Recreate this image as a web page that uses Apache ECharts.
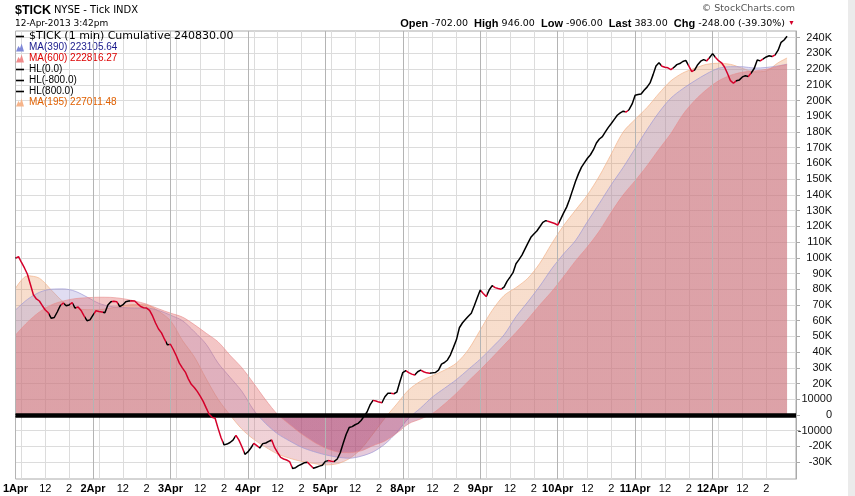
<!DOCTYPE html>
<html>
<head>
<meta charset="utf-8">
<script src="https://cdn.jsdelivr.net/npm/echarts@6/dist/echarts.min.js"></script>
<style>
html, body { margin: 0; padding: 0; background: #fff; }
#main { width: 855px; height: 496px; }
</style>
</head>
<body>
<div id="main"></div>
<script>
// trading days on the axis, each split in 15 minute slots from 9:30
var dayNames = ['1Apr', '2Apr', '3Apr', '4Apr', '5Apr', '8Apr', '9Apr', '10Apr', '11Apr', '12Apr'];
var slotsPerDay = 26;
var padSlots = 3;
var timeTicks = [{ slot: 10, label: '12' }, { slot: 18, label: '2' }];
var gridSlots = [0, 2, 10, 18];

// cumulative $TICK, thousands, one value per slot
var tickLine = [
    99.7, 100.7, 97, 93.5, 89.5, 83, 76.5, 73.8, 72.5, 69.5, 66.8, 65, 61.5, 62, 65.5, 69.5, 71.2, 69.5, 70, 71.4, 68, 68.7, 66.5, 63, 60, 60.5,
    63.5, 66.3, 65.8, 65.5, 65, 70, 72, 72.3, 72, 69, 70, 72, 72.5, 72.7, 72.5, 70.7, 69, 68.2, 68, 66.5, 63, 58.5, 54.7, 52.2, 48.2, 44.6,
    45, 41.5, 37.5, 33, 30, 27.3, 23, 19.5, 17.5, 15, 12, 8.7, 4.5, 0.5, -1.5, -2.1, -8.5, -14.5, -19, -18.5, -17.5, -16, -13, -16, -20.2, -25,
    -23.5, -21, -18, -19.5, -21, -18.2, -17.8, -16.8, -15.9, -20.8, -24, -27, -28, -28.6, -29.6, -34, -33.5, -32.2, -31.3, -30.3, -30, -32, -33.9, -33.2, -32.5, -32,
    -29.5, -29, -29.4, -29.5, -28, -24, -18, -12.2, -8, -7.4, -6.2, -5.3, -3.5, -0.8, 1.9, 6.4, 9.3, 8.9, 8.2, 7.8, 11.6, 13.8, 13.9, 13.5, 14.5, 21,
    27, 28.2, 27, 26, 25.4, 27.5, 28.5, 27.5, 26.8, 26.6, 26.8, 27.1, 28.5, 32.4, 33.4, 35, 38.3, 43, 47.8, 55.5, 58.5, 60.7, 62.8, 64.7, 69.5, 74.5,
    79.5, 77.3, 75.3, 79.5, 82.3, 81, 80.4, 80, 81.3, 85, 87.7, 90.5, 96.2, 98.8, 101.7, 105.5, 109.3, 113, 115.1, 117, 119.7, 122.5, 123.6, 123, 122.4, 121.8,
    120.8, 124.6, 128.5, 132.2, 137.2, 143, 148.6, 153.5, 157.6, 160.5, 163.3, 165.5, 168.7, 173, 175.5, 177, 180, 182.9, 185.4, 188, 190.6, 192.1, 193.2, 192.7, 194.3, 197.8,
    203.4, 203.8, 204.2, 206.5, 208.5, 211.2, 216.3, 222, 224, 221.8, 221.2, 220.8, 219.7, 221, 222.8, 223.5, 224.8, 225.5, 222, 218.4, 219.5, 222.8, 225, 226, 225.2, 227.3,
    229.8, 227.3, 225.3, 224, 221.3, 217.2, 212.6, 211, 212.6, 213.1, 215, 215.7, 215.3, 217.6, 220.5, 225.8, 225.2, 226.5, 227.7, 228.5, 228, 229, 232, 237, 238.5, 240.83
];

// moving averages read hourly (slot index), thousands
var maSlots = [0, 4, 8, 12, 16, 20, 24, 28, 32, 36, 40, 44, 48, 52, 56, 60, 64, 68, 72, 76, 80, 84, 88, 92, 96, 100,
    104, 108, 112, 116, 120, 124, 128, 132, 136, 140, 144, 148, 152, 156, 160, 164, 168, 172, 176, 180, 184, 188, 192, 196, 200,
    204, 208, 212, 216, 220, 224, 228, 232, 236, 240, 244, 248, 252, 256, 259];
var ma195 = [80.6, 88.5, 87, 79.5, 72, 68, 67, 67, 68, 69.5, 70.2, 70, 66, 60, 47.5, 37, 23, 10, 0, -9, -15.5, -20.5, -24.8, -27.5, -29.5, -30.8,
    -31.7, -31, -27.8, -21.5, -12, -2, 7, 16, 21.5, 25, 28.5, 33, 41.5, 54, 66.5, 76, 81, 87, 96.5, 109, 120.5, 130.3, 140, 152, 166,
    180, 188, 195.5, 204.5, 212.5, 217.5, 220.5, 223, 223.7, 223, 220.5, 218.2, 218.8, 224, 227.01];
var ma390 = [66.8, 73.5, 78, 80, 80.2, 78.7, 75, 71, 69, 68.3, 68, 68, 66.5, 63.5, 60, 53, 45, 33, 24, 15, 3, -5.5, -12, -16.5, -20.5, -23.2,
    -25.3, -26.8, -27.5, -26.2, -23.5, -18.5, -11, -2, 4.5, 11.5, 17, 22.5, 29, 35.5, 43, 51, 62.5, 72, 82, 93, 102.5, 111, 123, 134.6, 146.5,
    157.5, 169.5, 181.5, 192.5, 201.5, 207.5, 212.5, 217, 220.5, 221.5, 221.5, 220.6, 221, 222, 223.11];
var ma600 = [50.9, 59, 65.5, 70, 72.5, 74, 74.6, 74.9, 74.8, 74, 72.5, 70.5, 67.5, 64.8, 62.3, 57.5, 52, 46.5, 38, 30, 20, 9.5, 0.3, -6, -12, -17,
    -21, -23.5, -24, -22.8, -19.5, -16.5, -11.5, -5.5, -2.5, 1, 7, 13.8, 21.5, 28.8, 36.5, 44.5, 52.5, 61, 70, 78.5, 88, 98, 107, 117, 129,
    140, 149, 158.5, 169, 179, 191, 200, 207, 212.5, 216, 218, 218.8, 219.8, 221.8, 222.82];

var hlLevels = [0, -800, 800];
var yTicks = [-30000, -20000, -10000, 0, 10000, 20000, 30000, 40000, 50000, 60000, 70000, 80000, 90000, 100000, 110000, 120000,
    130000, 140000, 150000, 160000, 170000, 180000, 190000, 200000, 210000, 220000, 230000, 240000];

var tickName = '$TICK (1 min) Cumulative 240830.00';
var ma390Name = 'MA(390) 223105.64';
var ma600Name = 'MA(600) 222816.27';
var ma195Name = 'MA(195) 227011.48';
var hlNames = ['HL(0.0)', 'HL(-800.0)', 'HL(800.0)'];

var upColor = '#000000';
var downColor = '#d4002a';
var mountain = 'path://M0,10 L3,3 L5,6 L7,0 L10,10 Z';
var dash = 'path://M0,4 L10,4 L10,6 L0,6 Z';

function pad2(n) { return n < 10 ? '0' + n : '' + n; }

var categories = [];
for (var d = 0; d < dayNames.length; d++) {
    for (var s = 0; s < slotsPerDay; s++) {
        var m = 570 + s * 15;
        categories.push(dayNames[d] + ' ' + Math.floor(m / 60) + ':' + pad2(m % 60));
    }
}
for (var p = 0; p < padSlots; p++) {
    categories.push('end ' + p);
}
var lastSlot = dayNames.length * slotsPerDay - 1;

function maData(arr) {
    return maSlots.map(function (slot, i) { return [slot, arr[i] * 1000]; });
}

// black for up moves, red for down moves
var n = tickLine.length;
var stops = [];
for (var i = 1; i < n; i++) {
    var c = tickLine[i] < tickLine[i - 1] ? downColor : upColor;
    stops.push({ offset: (i - 1) / (n - 1), color: c });
    stops.push({ offset: i / (n - 1), color: c });
}

function isGridSlot(index) {
    return index <= lastSlot && gridSlots.indexOf(index % slotsPerDay) >= 0;
}
function isLabelSlot(index) {
    if (index > lastSlot) return false;
    var s = index % slotsPerDay;
    if (s === 0) return true;
    for (var k = 0; k < timeTicks.length; k++) {
        if (timeTicks[k].slot === s) return true;
    }
    return false;
}

// fill colours above / below zero
function signPieces(pos, neg) {
    return [{ gte: -100000, lt: 0, color: neg }, { gte: 0, lte: 300000, color: pos }];
}

var myChart = echarts.init(document.getElementById('main'));

var hlSeries = hlLevels.map(function (lvl, i) {
    return {
        name: hlNames[i],
        type: 'line',
        data: [],
        z: 6,
        markLine: {
            silent: true,
            symbol: 'none',
            animation: false,
            label: { show: false },
            lineStyle: { color: '#000', width: i === 0 ? 3 : 1.5, type: 'solid' },
            data: [{ yAxis: lvl }]
        }
    };
});

var legendRow = { fontFamily: 'Liberation Sans', fontSize: 10 };

var option = {
    animation: false,
    textStyle: { fontFamily: 'Liberation Sans' },
    title: [{
        left: 15, top: 4, padding: 0,
        text: '{b|$TICK} {n|NYSE - Tick INDX}',
        textStyle: {
            fontSize: 10, fontWeight: 'normal',
            rich: {
                b: { fontFamily: 'Liberation Sans', fontWeight: 'bold', fontSize: 12.5, color: '#000' },
                n: { fontFamily: 'DejaVu Sans', fontSize: 10, color: '#000' }
            }
        }
    }, {
        left: 15, top: 19, padding: 0,
        text: '12-Apr-2013 3:42pm',
        textStyle: { fontFamily: 'DejaVu Sans', fontSize: 9, fontWeight: 'normal', color: '#000' }
    }, {
        right: 60, top: 4, padding: 0,
        text: '\u00a9 StockCharts.com',
        textStyle: { fontFamily: 'DejaVu Sans', fontSize: 9.5, fontWeight: 'normal', color: '#555' }
    }, {
        right: 60, top: 18, padding: 0,
        text: '{b|Open} {v|-702.00}  {b|High} {v|946.00}  {b|Low} {v|-906.00}  {b|Last} {v|383.00}  {b|Chg} {v|-248.00 (-39.30%)} {r|\u25bc}',
        textStyle: {
            fontFamily: 'Liberation Sans', fontSize: 11, fontWeight: 'bold',
            rich: {
                b: { fontFamily: 'Liberation Sans', fontWeight: 'bold', fontSize: 11, color: '#000' },
                v: { fontFamily: 'DejaVu Sans', fontWeight: 'normal', fontSize: 9.5, color: '#000' },
                r: { fontSize: 7, color: '#d4002a' }
            }
        }
    }],
    graphic: [{
        type: 'rect', right: 0, top: 0,
        shape: { width: 7, height: 496 },
        style: { fill: '#ebebeb' }
    }],
    legend: {
        left: 16, top: 31,
        orient: 'vertical',
        itemGap: 0,
        itemWidth: 8,
        itemHeight: 8,
        padding: 0,
        selectedMode: false,
        textStyle: { fontFamily: 'Liberation Sans', fontSize: 10, lineHeight: 11, padding: 0 },
        data: [
            { name: tickName, icon: dash, itemStyle: { color: '#000' }, textStyle: { color: '#000', fontFamily: 'DejaVu Sans', fontSize: 11 } },
            { name: ma390Name, icon: mountain, itemStyle: { color: '#7f88d8' }, textStyle: Object.assign({ color: '#1a1a8c' }, legendRow) },
            { name: ma600Name, icon: mountain, itemStyle: { color: '#f08a8a' }, textStyle: Object.assign({ color: '#dd0000' }, legendRow) },
            { name: hlNames[0], icon: dash, itemStyle: { color: '#000' }, textStyle: Object.assign({ color: '#000' }, legendRow) },
            { name: hlNames[1], icon: dash, itemStyle: { color: '#000' }, textStyle: Object.assign({ color: '#000' }, legendRow) },
            { name: hlNames[2], icon: dash, itemStyle: { color: '#000' }, textStyle: Object.assign({ color: '#000' }, legendRow) },
            { name: ma195Name, icon: mountain, itemStyle: { color: '#f6b48a' }, textStyle: Object.assign({ color: '#e06000' }, legendRow) }
        ]
    },
    visualMap: [
        { show: false, type: 'piecewise', seriesIndex: 1, dimension: 1, pieces: signPieces('#e37b37', '#c34b5f') },
        { show: false, type: 'piecewise', seriesIndex: 2, dimension: 1, pieces: signPieces('#968cd2', '#a74d84') },
        { show: false, type: 'piecewise', seriesIndex: 3, dimension: 1, pieces: signPieces('#e06868', '#ab416f') }
    ],
    grid: {
        left: 15, right: 59, top: 31, bottom: 17,
        show: true, borderColor: '#aaa', borderWidth: 1
    },
    xAxis: {
        type: 'category',
        data: categories,
        boundaryGap: false,
        axisLine: { lineStyle: { color: '#aaa' } },
        axisTick: { show: true, length: 4, interval: isGridSlot, lineStyle: { color: '#ccc' } },
        axisLabel: {
            interval: isLabelSlot,
            margin: 4,
            fontFamily: 'Liberation Sans',
            fontSize: 11,
            color: '#000',
            formatter: function (value, index) {
                var s = index % slotsPerDay;
                if (s === 0) return '{d|' + dayNames[index / slotsPerDay] + '}';
                for (var k = 0; k < timeTicks.length; k++) {
                    if (timeTicks[k].slot === s) return timeTicks[k].label;
                }
                return '';
            },
            rich: { d: { fontFamily: 'Liberation Sans', fontWeight: 'bold', fontSize: 11, color: '#000' } }
        },
        splitLine: { show: true, interval: isGridSlot, lineStyle: { color: '#dcdcdc' } }
    },
    yAxis: {
        type: 'value',
        position: 'right',
        min: -40700,
        max: 244200,
        axisLine: { show: true, lineStyle: { color: '#aaa' } },
        axisTick: { show: true, length: 4, customValues: yTicks, lineStyle: { color: '#aaa' } },
        axisLabel: {
            customValues: yTicks,
            align: 'right',
            margin: 36,
            fontFamily: 'Liberation Sans',
            fontSize: 11,
            color: '#111',
            formatter: function (v) {
                if (v === 0) return '0';
                if (Math.abs(v) === 10000) return '' + v;
                return (v / 1000) + 'K';
            }
        },
        splitLine: { show: true, lineStyle: { color: '#dcdcdc' } }
    },
    series: [{
        name: 'days',
        type: 'line',
        data: [],
        z: 0,
        markLine: {
            silent: true,
            symbol: 'none',
            animation: false,
            label: { show: false },
            lineStyle: { color: '#b4b4b4', width: 1, type: 'solid' },
            data: dayNames.map(function (dn, i) { return { xAxis: i * slotsPerDay }; })
        }
    }, {
        name: ma195Name,
        type: 'line',
        data: maData(ma195),
        smooth: 0.3,
        symbol: 'none',
        z: 1,
        lineStyle: { color: '#f2b48c', width: 1, opacity: 0.7 },
        areaStyle: { opacity: 0.25 }
    }, {
        name: ma390Name,
        type: 'line',
        data: maData(ma390),
        smooth: 0.3,
        symbol: 'none',
        z: 2,
        lineStyle: { color: '#a09ad6', width: 1, opacity: 0.7 },
        areaStyle: { opacity: 0.3 }
    }, {
        name: ma600Name,
        type: 'line',
        data: maData(ma600),
        smooth: 0.3,
        symbol: 'none',
        z: 3,
        lineStyle: { color: '#e88a8a', width: 1, opacity: 0.6 },
        areaStyle: { opacity: 0.38 }
    }, {
        name: tickName,
        type: 'line',
        data: tickLine.map(function (v) { return v * 1000; }),
        symbol: 'none',
        z: 5,
        lineStyle: {
            width: 1.5,
            color: new echarts.graphic.LinearGradient(0, 0, 1, 0, stops)
        }
    }].concat(hlSeries)
};

myChart.setOption(option);
</script>
</body>
</html>
